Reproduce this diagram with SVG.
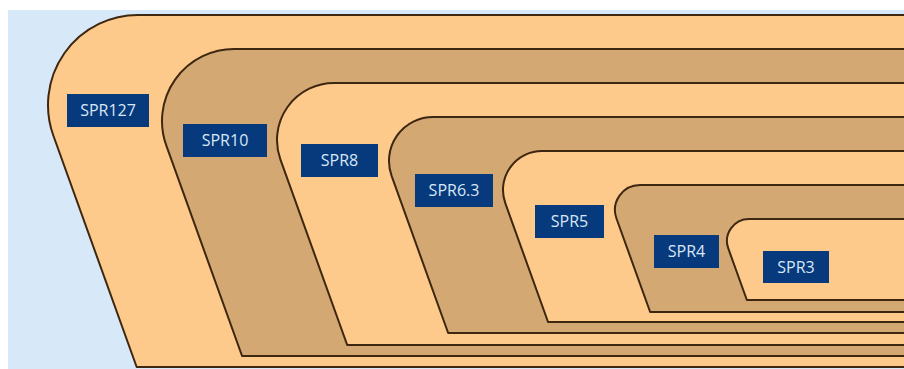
<svg xmlns="http://www.w3.org/2000/svg" width="904" height="369" viewBox="0 0 904 369">
  <style>
    .band { stroke: #3e2710; stroke-width: 2; stroke-linejoin: round; }
    .light { fill: #fdca8c; }
    .tan { fill: #d3a873; }
    .tag { fill: #063a7c; }
    .lbl { font-family: "Open Sans", "Noto Sans", sans-serif; font-size: 16px; fill: #d9e7f6; text-anchor: middle; }
  </style>
  <rect x="0" y="0" width="904" height="369" fill="#ffffff"/>
  <rect x="8" y="10" width="896" height="359" fill="#d7e8f8"/>
  <g id="spr127">
    <path class="band light" d="M910,15 H138 A90,90 0 0 0 53.32,135.48 L136.67,367 H910 Z"/>
    <rect class="tag" x="67" y="94" width="82" height="33"/>
    <text class="lbl" x="108" y="116">SPR127</text>
  </g>
  <g id="spr10">
    <path class="band tan" d="M910,49 H234 A72,72 0 0 0 166.26,145.39 L242.08,356 H910 Z"/>
    <rect class="tag" x="183" y="124" width="84" height="33"/>
    <text class="lbl" x="225" y="146">SPR10</text>
  </g>
  <g id="spr8">
    <path class="band light" d="M910,83 H334 A57,57 0 0 0 280.37,159.31 L347.22,345 H910 Z"/>
    <rect class="tag" x="301" y="144" width="77" height="33"/>
    <text class="lbl" x="339.5" y="166">SPR8</text>
  </g>
  <g id="spr6_3">
    <path class="band tan" d="M910,117 H433 A44,44 0 0 0 391.6,175.9 L448.16,333 H910 Z"/>
    <rect class="tag" x="415" y="174" width="78" height="33"/>
    <text class="lbl" x="454" y="196">SPR6.3</text>
  </g>
  <g id="spr5">
    <path class="band light" d="M910,151 H542 A39,39 0 0 0 505.3,203.21 L548.06,322 H910 Z"/>
    <rect class="tag" x="535" y="205" width="69" height="33"/>
    <text class="lbl" x="569.5" y="227">SPR5</text>
  </g>
  <g id="spr4">
    <path class="band tan" d="M910,185 H640 A25,25 0 0 0 616.48,218.47 L650.15,312 H910 Z"/>
    <rect class="tag" x="654" y="235" width="65" height="33"/>
    <text class="lbl" x="686.5" y="257">SPR4</text>
  </g>
  <g id="spr3">
    <path class="band light" d="M910,219 H749 A22,22 0 0 0 728.3,248.45 L746.86,300 H910 Z"/>
    <rect class="tag" x="763" y="251" width="66" height="32"/>
    <text class="lbl" x="796" y="273">SPR3</text>
  </g>
  <g id="connectors"/>
</svg>
